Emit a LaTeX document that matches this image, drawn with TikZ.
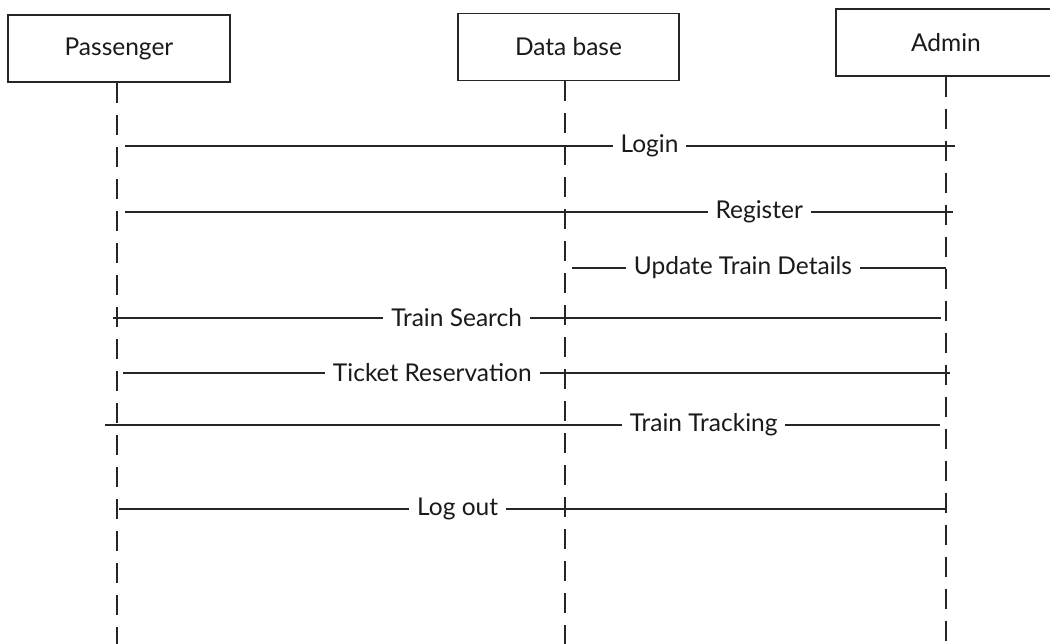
\documentclass[tikz,border=0pt]{standalone}
\usepackage{fontspec}
\setmainfont{Lato}
\definecolor{ink}{HTML}{262626}
\definecolor{txt}{HTML}{1A1A1A}
\begin{document}
\begin{tikzpicture}[x=1pt,y=-1pt,
  actor/.style={draw=ink,line width=1.7pt,minimum width=#1,minimum height=67pt,inner sep=0pt,
    font=\fontsize{24.5}{28}\selectfont,text=txt},
  life/.style={draw=ink,line width=1.7pt,dash pattern=on 20pt off 12pt},
  msg/.style={draw=ink,line width=1.7pt},
  lbl/.style={fill=white,inner xsep=8pt,inner ysep=2pt,font=\fontsize{24.5}{28}\selectfont,text=txt}]
\useasboundingbox (0,0) rectangle (1050,644);
\fill[white] (0,0) rectangle (1050,644);
% actors
\node[actor=222pt] (pas) at (119,48.5) {Passenger};
\node[actor=221pt] (db) at (568.5,47) {Data base};
\node[actor=220pt] (adm) at (946,42.5) {Admin};
% lifeline ends
\coordinate (pb) at (117,650);
\coordinate (db0) at (565,81);
\coordinate (dbb) at (565,650);
\coordinate (ab) at (946,650);
\draw[life] (pas.south -| pb) -- (pb);
\draw[life] (db0) -- (dbb);
\draw[life] (adm.south) -- (ab);
% message endpoints
\coordinate (l1) at (125,146);  \coordinate (r1) at (955,146);
\coordinate (l2) at (125,212);  \coordinate (r2) at (953,212);
\coordinate (l3) at (572,268);  \coordinate (r3) at (946,268);
\coordinate (l4) at (113,318);  \coordinate (r4) at (941,318);
\coordinate (l5) at (123,373);  \coordinate (r5) at (950,373);
\coordinate (l6) at (105,425);  \coordinate (r6) at (940,425);
\coordinate (l7) at (119,509);  \coordinate (r7) at (945,509);
% messages
\draw[msg] (l1) -- node[lbl,pos=0.632] {Login} (r1);
\draw[msg] (l2) -- node[lbl,pos=0.766] {Register} (r2);
\draw[msg] (l3) -- node[lbl,pos=0.457] {Update Train Details} (r3);
\draw[msg] (l4) -- node[lbl,pos=0.415] {Train Search} (r4);
\draw[msg] (l5) -- node[lbl,pos=0.374] {Ticket Reservation} (r5);
\draw[msg] (l6) -- node[lbl,pos=0.717] {Train Tracking} (r6);
\draw[msg] (l7) -- node[lbl,pos=0.410] {Log out} (r7);
\end{tikzpicture}
\end{document}
